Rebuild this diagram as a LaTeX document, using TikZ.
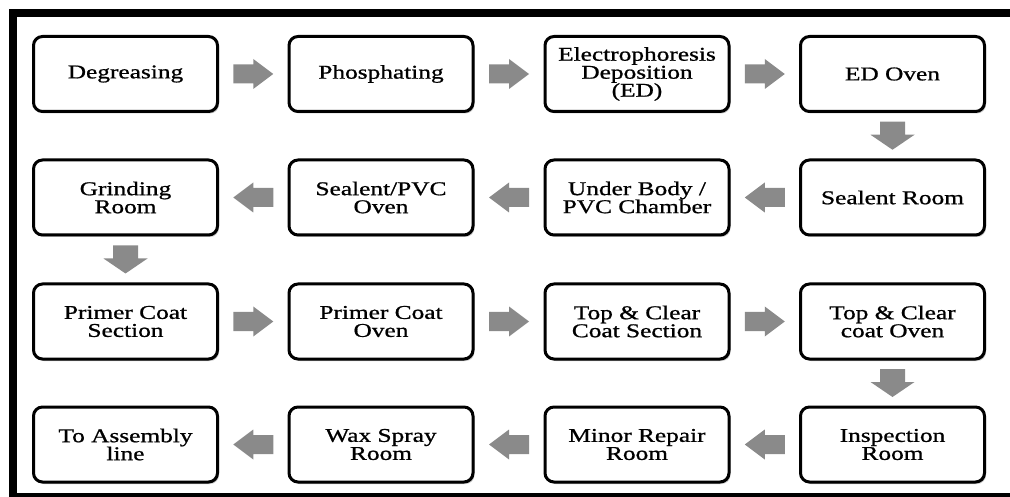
\documentclass[tikz,border=0pt]{standalone}
\usepackage{fontspec}
\newfontfamily\boxfont{Liberation Serif}[FakeStretch=1.3,FakeBold=0.9]
\usetikzlibrary{calc,shadows}
\definecolor{arrowgray}{RGB}{138,138,138}

% block arrows placed halfway between two named stages
\newcommand\flowright[2]{%
  \path ($(#1.east)!0.5!(#2.west)$) coordinate (mid);
  \fill[arrowgray, shift={(mid)}] (-20,-9.5) -- (0,-9.5) -- (0,-15) -- (20,0)
    -- (0,15) -- (0,9.5) -- (-20,9.5) -- cycle;}
\newcommand\flowleft[2]{%
  \path ($(#1.west)!0.5!(#2.east)$) coordinate (mid);
  \fill[arrowgray, shift={(mid)}] (20,-9.5) -- (0,-9.5) -- (0,-15) -- (-20,0)
    -- (0,15) -- (0,9.5) -- (20,9.5) -- cycle;}
\newcommand\flowdown[2]{%
  \path ($(#1.south)!0.5!(#2.north)$) coordinate (mid);
  \fill[arrowgray, shift={(mid)}] (-12.5,-14) -- (12.5,-14) -- (12.5,-1) -- (22,-1)
    -- (0,14) -- (-22,-1) -- (-12.5,-1) -- cycle;}

\begin{document}
\begin{tikzpicture}[x=1pt,y=-1pt,
  stage/.style={draw=black, line width=3pt, rounded corners=9pt, fill=white,
    minimum width=184pt, minimum height=75pt, align=center, inner sep=0pt,
    font=\boxfont\fontsize{19.5}{18}\selectfont,
    drop shadow={shadow xshift=1.5pt, shadow yshift=-2pt, fill=black!50, opacity=0.45}}]
\useasboundingbox (0,0) rectangle (1010,497);

% outer frame
\begin{scope}
  \clip (0,0) rectangle (1010,497);
  \draw[line width=8pt] (13,13) rectangle (1040,497);
\end{scope}

% row 1
\node[stage] (deg)  at (125.5,74) {Degreasing};
\node[stage] (pho)  at (381,74)   {Phosphating};
\node[stage] (ed)   at (637,74)   {Electrophoresis\\Deposition\\(ED)};
\node[stage] (edo)  at (892.5,74) {ED Oven};
% row 2
\node[stage] (seal) at (892.5,197.5) {Sealent Room};
\node[stage] (ubc)  at (637,197.5)   {Under Body /\\PVC Chamber};
\node[stage] (pvco) at (381,197.5)   {Sealent/PVC\\Oven};
\node[stage] (grd)  at (125.5,197.5) {Grinding\\Room};
% row 3
\node[stage] (pcs)  at (125.5,321.5) {Primer Coat\\Section};
\node[stage] (pco)  at (381,321.5)   {Primer Coat\\Oven};
\node[stage] (tcs)  at (637,321.5)   {Top \& Clear\\Coat Section};
\node[stage] (tco)  at (892.5,321.5) {Top \& Clear\\coat Oven};
% row 4
\node[stage] (insp) at (892.5,444.5) {Inspection\\Room};
\node[stage] (mrr)  at (637,444.5)   {Minor Repair\\Room};
\node[stage] (wax)  at (381,444.5)   {Wax Spray\\Room};
\node[stage] (asm)  at (125.5,444.5) {To Assembly\\line};

% flow arrows
\flowright{deg}{pho}
\flowright{pho}{ed}
\flowright{ed}{edo}
\flowdown{edo}{seal}
\flowleft{seal}{ubc}
\flowleft{ubc}{pvco}
\flowleft{pvco}{grd}
\flowdown{grd}{pcs}
\flowright{pcs}{pco}
\flowright{pco}{tcs}
\flowright{tcs}{tco}
\flowdown{tco}{insp}
\flowleft{insp}{mrr}
\flowleft{mrr}{wax}
\flowleft{wax}{asm}
\end{tikzpicture}
\end{document}
